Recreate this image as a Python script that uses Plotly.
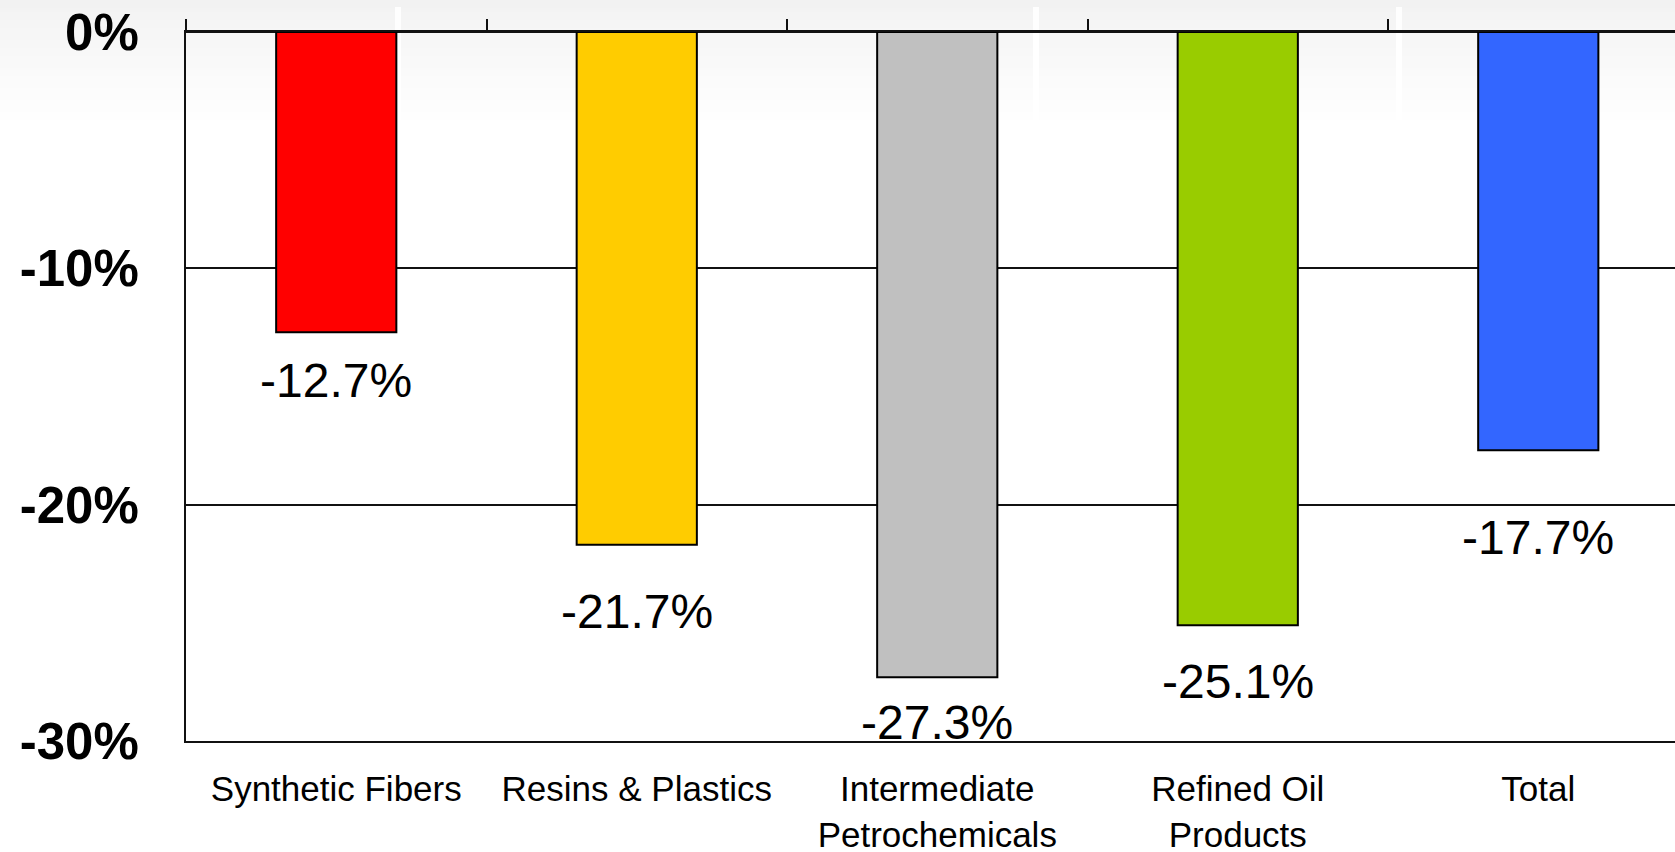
import plotly.graph_objects as go

# Year-on-year change by product segment (%)
categories = ["Synthetic Fibers", "Resins & Plastics", "Intermediate<br>Petrochemicals",
              "Refined Oil<br>Products", "Total"]
changes = [-12.7, -21.7, -27.3, -25.1, -17.7]
value_labels = ["-12.7%", "-21.7%", "-27.3%", "-25.1%", "-17.7%"]
y_tick_values = [0, -10, -20, -30]
y_tick_labels = ["0%", "-10%", "-20%", "-30%"]

# styling
bar_colors = ["#FF0000", "#FFCC00", "#C0C0C0", "#99CC00", "#3366FF"]
label_offset_px = [48, 67, 45, 56, 87]   # distance from bar end to label centre
W, H = 1675, 852
M_L, M_R, M_T, M_B = 186, 0, 32, 111
FONT = "Liberation Sans"

fig = go.Figure()
fig.add_bar(
    x=categories, y=changes, width=0.4,
    marker=dict(color=bar_colors, line=dict(color="black", width=2)),
    hoverinfo="skip", xaxis="x", yaxis="y",
)
# companion trace so the top category axis carries the boundary ticks
fig.add_scatter(x=categories, y=changes, mode="markers", marker=dict(opacity=0, size=1),
                hoverinfo="skip", showlegend=False, xaxis="x2", yaxis="y")

for cat, val, txt, off in zip(categories, changes, value_labels, label_offset_px):
    fig.add_annotation(x=cat, y=val, xref="x", yref="y", text=txt, showarrow=False,
                       yanchor="middle", yshift=-off,
                       font=dict(family=FONT, size=48, color="black"))

# soft grey fade at the top of the page
plot_h = H - M_T - M_B
def py(p):
    return (H - M_B - p) / plot_h

shapes = []
steps = 30
for i in range(steps):
    p0, p1 = i * 4, (i + 1) * 4
    g = int(242 + (255 - 242) * (i / steps) ** 0.8)
    shapes.append(dict(type="rect", xref="paper", yref="paper",
                       x0=-M_L / (W - M_L - M_R), x1=1.0, y0=py(p1), y1=py(p0),
                       fillcolor=f"rgb({g},{g},{g})", line=dict(width=0), layer="below"))
for xs in (398, 1036, 1399):
    shapes.append(dict(type="rect", xref="paper", yref="paper",
                       x0=(xs - 3 - M_L) / (W - M_L - M_R), x1=(xs + 3 - M_L) / (W - M_L - M_R),
                       y0=py(120), y1=py(7),
                       fillcolor="white", opacity=0.9, line=dict(width=0), layer="below"))

fig.update_layout(
    width=W, height=H,
    margin=dict(l=M_L, r=M_R, t=M_T, b=M_B, autoexpand=False),
    paper_bgcolor="white", plot_bgcolor="rgba(0,0,0,0)",
    showlegend=False, bargap=0.6,
    shapes=shapes,
    xaxis=dict(type="category", range=[-0.5, 4.455], showgrid=False, zeroline=False,
               automargin=False,
               showline=True, linecolor="#111", linewidth=2, ticks="",
               tickfont=dict(family=FONT, size=35, color="black"),
               ticklabelstandoff=16),
    xaxis2=dict(type="category", overlaying="x", matches="x", side="top", anchor="y",
                automargin=False,
                showgrid=False, zeroline=False, showline=True, linecolor="#111", linewidth=2,
                ticks="outside", tickson="boundaries", ticklen=11, tickwidth=2,
                tickcolor="#111", showticklabels=False),
    yaxis=dict(range=[-30, 0], tickmode="array", tickvals=y_tick_values, ticktext=y_tick_labels,
               automargin=False,
               showgrid=True, gridcolor="#111", gridwidth=1.5,
               zeroline=True, zerolinecolor="#111", zerolinewidth=2,
               showline=True, linecolor="#111", linewidth=2, ticks="",
               tickfont=dict(family=FONT, size=51, color="black", weight="bold"),
               ticklabelstandoff=35),
)

fig.write_html("out.html")
